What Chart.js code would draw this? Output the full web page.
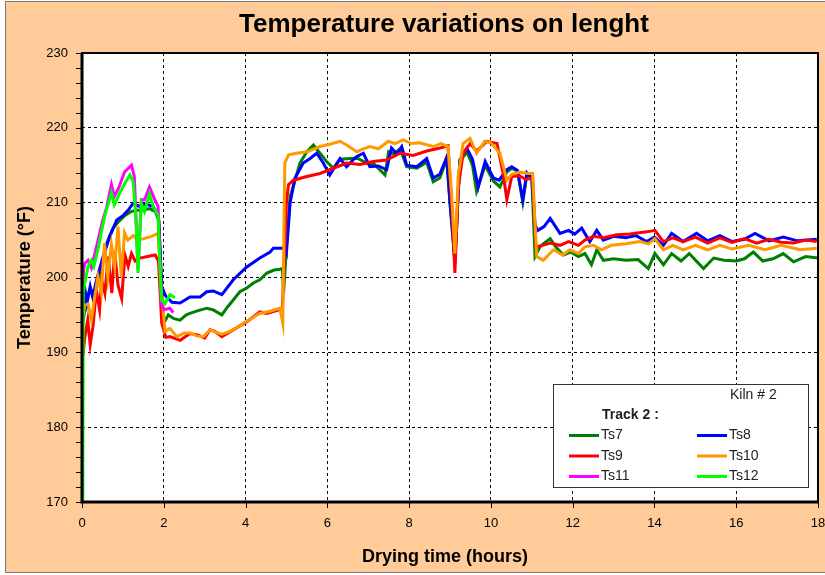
<!DOCTYPE html>
<html><head><meta charset="utf-8">
<script src="https://cdn.jsdelivr.net/npm/chart.js@4/dist/chart.umd.min.js"></script>
<style>html,body{margin:0;padding:0;background:#fff;}#wrap{width:825px;height:575px;position:relative;}</style>
</head><body><div id="wrap"><canvas id="c" width="825" height="575"></canvas></div>
<script>
// ---- DATA ----
const chartTitle = 'Temperature variations on lenght';
const xTitle = 'Drying time (hours)';
const yTitle = 'Temperature (°F)';
const xTickValues = [0, 2, 4, 6, 8, 10, 12, 14, 16, 18];
const yTickValues = [170, 180, 190, 200, 210, 220, 230];
const seriesNames = ['Ts7', 'Ts8', 'Ts9', 'Ts10', 'Ts11', 'Ts12'];

const ts7Time = [
0, 0.05, 0.1, 0.2, 0.3, 0.45, 0.6, 0.75, 0.9, 1.05,
1.2, 1.35, 1.5, 1.65, 1.8, 1.88, 1.95, 2.0, 2.11, 2.25,
2.4, 2.55, 2.64, 2.8, 3.05, 3.2, 3.42, 3.55, 3.7, 3.86,
4.03, 4.2, 4.35, 4.52, 4.7, 4.84, 4.9, 4.93, 5.0, 5.09,
5.21, 5.33, 5.5, 5.66, 5.82, 5.98, 6.15, 6.31, 6.55, 6.75,
6.96, 7.15, 7.41, 7.5, 7.62, 7.78, 7.94, 8.19, 8.43, 8.59,
8.75, 8.92, 9.0, 9.12, 9.24, 9.41, 9.55, 9.65, 9.86, 10.06,
10.22, 10.39, 10.51, 10.65, 10.78, 10.88, 11.0, 11.08, 11.2, 11.28,
11.45, 11.6, 11.77, 11.95, 12.14, 12.3, 12.46, 12.59, 12.75, 13.0,
13.3, 13.6, 13.85, 14.01, 14.22, 14.42, 14.65, 14.85, 15.2, 15.45,
15.7, 16.0, 16.2, 16.42, 16.65, 16.9, 17.15, 17.4, 17.7, 18.0];
const ts7Temp = [
193, 195, 197, 198.5, 197.5, 201, 204.5, 206.5, 207.5, 208.3,
208.8, 209, 209, 209.2, 208.8, 207.5, 198, 193.9, 195, 194.5,
194.3, 195, 195.2, 195.5, 195.9, 195.7, 195, 196, 197, 198.1,
198.6, 199.3, 199.7, 200.6, 201, 201.1, 201.2, 198, 204, 210.8,
213, 215.3, 216.8, 217.7, 216.6, 215.5, 214.6, 215.8, 215.9, 215.9,
215.3, 215.1, 213.7, 216.8, 216.5, 217.2, 214.8, 214.6, 215.4, 212.8,
213.3, 215.8, 210, 202, 215.5, 216.8, 215, 211.5, 215, 212.9,
212.1, 214.1, 214.6, 214.2, 210.1, 213.8, 213.3, 202.8, 204.1, 204.5,
205.2, 204, 203, 203.4, 202.8, 203.2, 201.7, 203.7, 202.3, 202.5,
202.3, 202.4, 201.2, 203.2, 201.7, 203.2, 202.2, 203.2, 201.2, 202.6,
202.3, 202.2, 202.5, 203.4, 202.2, 202.5, 203.2, 202.1, 202.8, 202.6];

const ts8Time = [
0.02, 0.07, 0.12, 0.2, 0.26, 0.35, 0.5, 0.68, 0.85, 1.01,
1.13, 1.25, 1.4, 1.55, 1.74, 1.87, 1.95, 2.05, 2.2, 2.4,
2.64, 2.89, 3.05, 3.21, 3.42, 3.7, 4.03, 4.35, 4.6, 4.68,
4.88, 4.95, 5.0, 5.09, 5.21, 5.41, 5.58, 5.74, 5.9, 6.06,
6.31, 6.47, 6.7, 6.88, 7.04, 7.25, 7.45, 7.57, 7.7, 7.82,
7.94, 8.19, 8.43, 8.59, 8.75, 8.92, 9.0, 9.12, 9.24, 9.41,
9.55, 9.69, 9.86, 10.06, 10.2, 10.39, 10.51, 10.65, 10.78, 10.88,
11.0, 11.08, 11.15, 11.3, 11.45, 11.69, 11.9, 12.05, 12.22, 12.42,
12.59, 12.75, 13.0, 13.3, 13.55, 13.81, 14.0, 14.22, 14.42, 14.7,
15.03, 15.3, 15.6, 15.9, 16.2, 16.46, 16.8, 17.15, 17.5, 17.97];
const ts8Temp = [
195, 198.5, 196.5, 198.8, 197.4, 199.5, 202.5, 205.5, 207.7, 208.3,
209, 209.9, 209.5, 209.8, 209.5, 208.3, 198.8, 197.5, 196.7, 196.6,
197.4, 197.4, 198.1, 198.2, 197.7, 199.7, 201.4, 202.6, 203.4, 203.9,
203.9, 204, 203.3, 210, 213.3, 215.3, 215.9, 216.6, 215.3, 213.7,
215.9, 214.8, 216.1, 216.6, 214.8, 214.9, 214.4, 217.3, 216.5, 217.5,
215, 214.8, 215.9, 213.3, 213.8, 216.1, 210, 202.3, 215.7, 217.3,
215.8, 212.1, 215.5, 213.3, 213, 214.4, 214.8, 214.3, 210.4, 214,
213.3, 207, 206.3, 206.8, 207.9, 205.9, 206.3, 205.8, 206.6, 204.8,
206.3, 205, 205.5, 205.3, 205.6, 204.8, 205.4, 204.3, 205.9, 204.8,
205.9, 204.9, 205.6, 204.8, 205.1, 205.9, 204.9, 205.4, 204.9, 205.1];

const ts9Time = [
0.02, 0.07, 0.14, 0.2, 0.27, 0.35, 0.43, 0.48, 0.56, 0.64,
0.73, 0.8, 0.88, 0.97, 1.05, 1.13, 1.21, 1.3, 1.42, 1.6,
1.79, 1.87, 1.95, 2.05, 2.15, 2.4, 2.64, 2.85, 3.0, 3.13,
3.25, 3.42, 3.7, 4.03, 4.35, 4.52, 4.84, 4.9, 5.0, 5.05,
5.17, 5.5, 5.82, 6.15, 6.47, 6.8, 7.12, 7.45, 7.78, 8.1,
8.43, 8.76, 8.95, 9.04, 9.12, 9.2, 9.32, 9.49, 9.65, 9.9,
10.15, 10.3, 10.39, 10.51, 10.7, 10.85, 11.02, 11.1, 11.2, 11.45,
11.69, 11.9, 12.14, 12.3, 12.51, 12.75, 13.08, 13.4, 13.81, 14.01,
14.22, 14.45, 14.7, 15.0, 15.3, 15.6, 15.9, 16.2, 16.5, 16.8,
17.1, 17.4, 17.7, 17.97];
const ts9Temp = [
189.5, 192.1, 194.3, 191, 193.5, 198.3, 195.7, 199.7, 197.9, 202.8,
197.9, 203.5, 199, 197.2, 203, 201.5, 203.2, 202.2, 202.6, 202.8,
203, 202.2, 193.9, 192, 192.1, 191.6, 192.5, 192.3, 191.9, 193,
192.8, 192.1, 193, 194.1, 195.4, 195.2, 195.7, 195.6, 210, 212.4,
213, 213.5, 213.9, 214.6, 215.3, 215.1, 215.5, 215.7, 216.6, 216.3,
216.9, 217.3, 217.6, 210, 200.6, 211.9, 216.6, 217.9, 216.9, 218.2,
217.9, 213.9, 210.4, 213.5, 213.6, 213.1, 213.3, 204.1, 204.2, 204.6,
204.3, 204.8, 204.3, 205, 205.5, 205.3, 205.7, 205.8, 206.1, 206.3,
204.8, 205.3, 204.8, 205.4, 204.6, 205.3, 204.7, 205.2, 204.6, 205.1,
204.7, 204.6, 205, 204.8];

const ts10Time = [
0.02, 0.07, 0.15, 0.23, 0.31, 0.39, 0.47, 0.55, 0.63, 0.72,
0.8, 0.88, 0.96, 1.04, 1.12, 1.25, 1.37, 1.51, 1.7, 1.86,
1.94, 2.03, 2.15, 2.32, 2.5, 2.65, 2.8, 2.97, 3.13, 3.42,
3.7, 4.03, 4.35, 4.6, 4.84, 4.91, 4.96, 5.05, 5.25, 5.5,
5.82, 6.06, 6.31, 6.5, 6.72, 6.88, 7.04, 7.25, 7.49, 7.65,
7.86, 8.05, 8.25, 8.59, 8.78, 8.95, 9.04, 9.12, 9.2, 9.32,
9.49, 9.65, 9.85, 10.0, 10.22, 10.39, 10.51, 10.71, 10.88, 11.02,
11.12, 11.28, 11.53, 11.75, 11.93, 12.14, 12.3, 12.51, 12.7, 12.95,
13.3, 13.65, 13.85, 14.01, 14.22, 14.45, 14.7, 15.0, 15.3, 15.6,
15.9, 16.3, 16.7, 17.1, 17.56, 17.97];
const ts10Temp = [
194.8, 196.3, 196.5, 194.3, 197.4, 200.1, 198, 204.6, 200, 204.4,
201.5, 206.8, 200.1, 206, 205, 205.6, 205, 205.2, 205.5, 205.9,
198.3, 192.8, 193.2, 192.1, 192.6, 192.6, 192.2, 192.1, 193, 192.4,
193, 194.2, 195.2, 195.5, 195.9, 193.9, 215.3, 216.4, 216.6, 216.8,
217.5, 217.8, 218.2, 217.6, 216.8, 217.2, 217.5, 217.2, 218.2, 217.9,
218.4, 217.9, 218, 217.5, 217.9, 217.5, 211.2, 203.2, 213.5, 217.9,
218.6, 216.6, 218.2, 218, 216.6, 213, 213.8, 214.1, 213.9, 213.9,
202.8, 202.3, 203.7, 203.0, 203.7, 203.2, 204.1, 204.3, 203.7, 204.3,
204.5, 204.8, 204.5, 205.2, 203.7, 204.3, 203.7, 204.3, 203.7, 204.3,
203.8, 204.3, 203.7, 204.3, 203.7, 203.9];

const ts11Time = [0.02, 0.04, 0.07, 0.15, 0.23, 0.35, 0.5, 0.61, 0.72, 0.79,
0.9, 1.04, 1.21, 1.28, 1.37, 1.45, 1.53, 1.65, 1.78, 1.86,
1.94, 2.0, 2.15, 2.23];
const ts11Temp = [198.5, 201, 201.9, 202.3, 201.3, 204, 207.5, 209.5, 212.4, 210.8,
212, 214.1, 215.0, 213.5, 201, 210.4, 210.4, 212.1, 210.4, 209.5,
196.6, 195.7, 195.9, 195.3];

const ts12Time = [0.02, 0.03, 0.07, 0.15, 0.23, 0.29, 0.4, 0.55, 0.72, 0.79,
0.9, 1.04, 1.17, 1.25, 1.32, 1.37, 1.45, 1.53, 1.65, 1.74,
1.86, 1.94, 2.03, 2.15, 2.27];
const ts12Temp = [170, 198, 199.3, 201.5, 202.3, 201.5, 204, 208.1, 211.3, 209.7,
211, 212.5, 213.7, 212.8, 208, 200.6, 209.9, 208.8, 211.2, 209.5,
208.3, 197, 196.5, 197.7, 197.3];

// ---- STYLE ----
const FONT = "'Liberation Sans', Arial, sans-serif";
const seriesColors = ['#008000', '#0000FF', '#FF0000', '#FF9900', '#FF00FF', '#00FF00'];
const PEACH = '#FFCC99';
const times = [ts7Time, ts8Time, ts9Time, ts10Time, ts11Time, ts12Time];
const temps = [ts7Temp, ts8Temp, ts9Temp, ts10Temp, ts11Temp, ts12Temp];
const toPoints = (t, v) => t.map((x, i) => ({ x: x, y: v[i] }));

const datasets = seriesNames.map((name, i) => ({
  label: name,
  data: toPoints(times[i], temps[i]),
  borderColor: seriesColors[i],
  backgroundColor: seriesColors[i],
  borderWidth: 3,
  pointRadius: 0,
  tension: 0,
  fill: false,
  order: 6 - i
}));

const decor = {
  id: 'decor',
  beforeDraw(chart) {
    const ctx = chart.ctx, a = chart.chartArea;
    ctx.save();
    ctx.fillStyle = '#FFFFFF';
    ctx.fillRect(0, 0, chart.width, chart.height);
    ctx.fillStyle = PEACH;
    ctx.fillRect(5, 1, chart.width, 571);
    ctx.strokeStyle = '#7a7a7a';
    ctx.lineWidth = 1;
    ctx.strokeRect(5.5, 1.5, chart.width + 10, 571);
    ctx.fillStyle = '#FFFFFF';
    ctx.fillRect(a.left, a.top, a.right - a.left, a.bottom - a.top);
    ctx.restore();
  },
  afterDraw(chart) {
    const ctx = chart.ctx, a = chart.chartArea;
    const xs = chart.scales.x, ys = chart.scales.y;
    ctx.save();
    // plot frame
    ctx.strokeStyle = '#000';
    ctx.lineWidth = 2;
    ctx.strokeRect(a.left, a.top, a.right - a.left, a.bottom - a.top);
    ctx.lineWidth = 3;
    ctx.beginPath();
    ctx.moveTo(a.left, a.top); ctx.lineTo(a.left, a.bottom + 1.5);
    ctx.moveTo(a.left - 1.5, a.bottom); ctx.lineTo(a.right, a.bottom);
    ctx.stroke();
    // tick marks
    ctx.lineWidth = 1;
    ctx.beginPath();
    for (let v = yTickValues[0]; v <= yTickValues[yTickValues.length - 1]; v += 2) {
      const py = Math.round(ys.getPixelForValue(v)) + 0.5;
      ctx.moveTo(a.left - 6, py); ctx.lineTo(a.left, py);
    }
    xTickValues.forEach(v => {
      const px = Math.round(xs.getPixelForValue(v)) + 0.5;
      ctx.moveTo(px, a.bottom); ctx.lineTo(px, a.bottom + 6);
    });
    ctx.stroke();
    // titles
    ctx.fillStyle = '#000';
    ctx.textAlign = 'center';
    ctx.textBaseline = 'middle';
    ctx.font = 'bold 26px ' + FONT;
    ctx.fillText(chartTitle, 444, 25);
    ctx.font = 'bold 18px ' + FONT;
    ctx.fillText(xTitle, 445, 557);
    ctx.save();
    ctx.translate(25, (a.top + a.bottom) / 2);
    ctx.rotate(-Math.PI / 2);
    ctx.fillText(yTitle, 0, 0);
    ctx.restore();
    // legend box
    ctx.fillStyle = '#FFFFFF';
    ctx.fillRect(553.5, 384.5, 255, 103);
    ctx.strokeStyle = '#333';
    ctx.lineWidth = 1;
    ctx.strokeRect(553.5, 384.5, 255, 103);
    ctx.fillStyle = '#222';
    ctx.textAlign = 'left';
    ctx.font = '14px ' + FONT;
    ctx.fillText('Kiln # 2', 730, 395);
    ctx.font = 'bold 14px ' + FONT;
    ctx.fillText('Track 2 :', 602, 415);
    ctx.font = '14px ' + FONT;
    chart.data.datasets.forEach((ds, i) => {
      const col = i % 2, row = Math.floor(i / 2);
      const x0 = col ? 697 : 569;
      const y = 435.5 + row * 20.5;
      ctx.strokeStyle = ds.borderColor;
      ctx.lineWidth = 3;
      ctx.beginPath(); ctx.moveTo(x0, y); ctx.lineTo(x0 + 30, y); ctx.stroke();
      ctx.fillStyle = '#222';
      ctx.fillText(ds.label, x0 + 32, y);
    });
    ctx.restore();
  }
};

new Chart(document.getElementById('c'), {
  type: 'line',
  data: { datasets: datasets },
  plugins: [decor],
  options: {
    responsive: false,
    devicePixelRatio: 1,
    animation: false,
    layout: { padding: { top: 53, right: 7, left: 0, bottom: 0 } },
    plugins: { legend: { display: false }, title: { display: false }, tooltip: { enabled: false } },
    scales: {
      x: {
        type: 'linear', min: 0, max: 18,
        afterFit: s => { s.height = 73; s.paddingLeft = 0; s.paddingRight = 0; },
        afterBuildTicks: s => { s.ticks = xTickValues.map(v => ({ value: v })); },
        ticks: { font: { size: 13, family: FONT }, color: '#000', padding: 14, maxRotation: 0 },
        grid: { drawTicks: false, lineWidth: 1, color: c => (c.tick && (c.tick.value === 0 || c.tick.value === 18)) ? 'rgba(0,0,0,0)' : '#000' },
        border: { display: false, dash: [3, 3] }
      },
      y: {
        type: 'linear', min: 170, max: 230,
        afterFit: s => { s.width = 82; s.paddingTop = 0; s.paddingBottom = 0; },
        afterBuildTicks: s => { s.ticks = yTickValues.map(v => ({ value: v })); },
        ticks: { font: { size: 13, family: FONT }, color: '#000', padding: 14 },
        grid: { drawTicks: false, lineWidth: 1, color: c => (c.tick && (c.tick.value === 170 || c.tick.value === 230)) ? 'rgba(0,0,0,0)' : '#000' },
        border: { display: false, dash: [3, 3] }
      }
    }
  }
});
</script></body></html>
